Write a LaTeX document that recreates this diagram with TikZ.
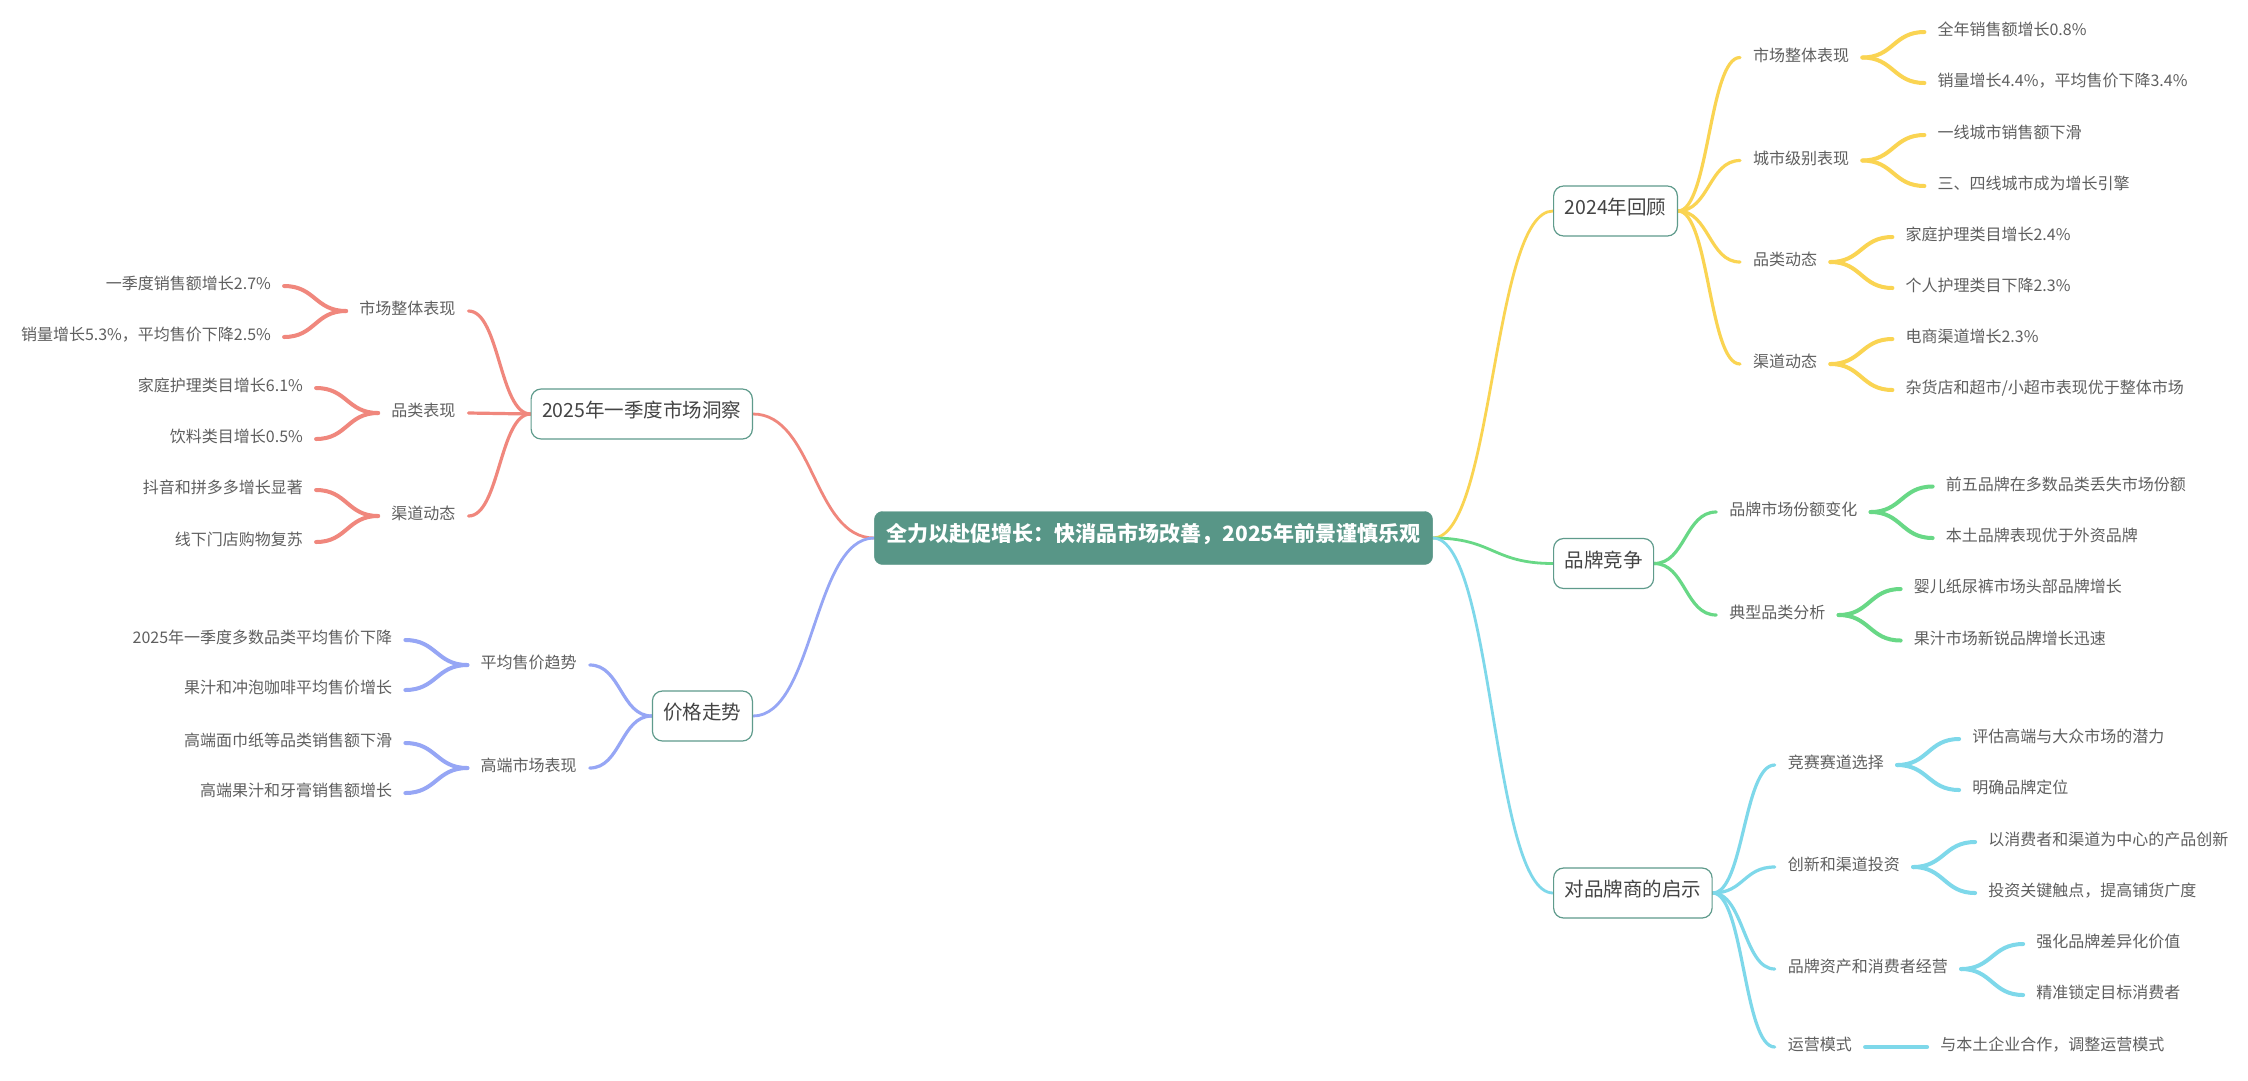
\documentclass[tikz,border=0pt]{standalone}
\usepackage{fontspec}
\setmainfont{Noto Sans CJK SC}
\usetikzlibrary{calc}
\definecolor{rootc}{RGB}{88,150,135}
\definecolor{boxb}{RGB}{95,155,140}
\definecolor{ty}{RGB}{250,212,82}
\definecolor{tg}{RGB}{104,216,134}
\definecolor{tc}{RGB}{126,216,234}
\definecolor{tr}{RGB}{240,135,125}
\definecolor{tb}{RGB}{150,166,245}
\definecolor{txt}{RGB}{95,95,95}
\definecolor{txtd}{RGB}{68,68,68}
\pgfdeclarelayer{bg}
\pgfsetlayers{bg,main}
\newcommand\mmright[3]{\draw[#1] (#2.east) .. controls +(31,0) and +(-31,0) .. (#3.west);}
\newcommand\mmleft[3]{\draw[#1] (#2.west) .. controls +(-31,0) and +(31,0) .. (#3.east);}
\begin{document}
\begin{tikzpicture}[x=1pt,y=-1pt,
  rootbox/.style={fill=rootc, draw=rootc, rounded corners=8pt, text=white,
    font=\fontsize{21}{21}\selectfont\bfseries, minimum height=53pt, inner xsep=12pt,
    text height=0.83em, text depth=0.07em},
  topic/.style={fill=white, draw=boxb, line width=1.2pt, rounded corners=10pt, text=txtd,
    font=\fontsize{19.5}{19.5}\selectfont, minimum height=50pt, inner xsep=11pt,
    text height=0.83em, text depth=0.07em},
  sub/.style={text=txt, font=\fontsize{16}{16}\selectfont, inner xsep=13pt, inner ysep=2pt,
    text height=0.83em, text depth=0.07em},
  subr/.style={sub, anchor=west, xshift=62pt},
  subl/.style={sub, anchor=east, xshift=-62pt},
  ly/.style={draw=ty, line cap=round},
  lg/.style={draw=tg, line cap=round},
  lc/.style={draw=tc, line cap=round},
  lr/.style={draw=tr, line cap=round},
  lb/.style={draw=tb, line cap=round},
  wa/.style={line width=2.8pt},
  wb/.style={line width=3.2pt},
  wc/.style={line width=4pt}]
\useasboundingbox (0,0) rectangle (2248,1080);

% root
\node[rootbox] (root) at (1153.5,538) {全力以赴促增长：快消品市场改善，2025年前景谨慎乐观};

% level 1
\node[topic, anchor=west] (t1) at (1553,211) {2024年回顾};
\node[topic, anchor=west] (t2) at (1553,563.5) {品牌竞争};
\node[topic, anchor=west] (t3) at (1553,893) {对品牌商的启示};
\node[topic, anchor=east] (t4) at (753,414) {2025年一季度市场洞察};
\node[topic, anchor=east] (t5) at (753,716) {价格走势};

% branch 1
\node[subr] (t1a) at (t1.east |- 0,57.5) {市场整体表现};
\node[subr] (t1b) at (t1.east |- 0,160.5) {城市级别表现};
\node[subr] (t1c) at (t1.east |- 0,262) {品类动态};
\node[subr] (t1d) at (t1.east |- 0,364) {渠道动态};
\node[subr] (t1a1) at (t1a.east |- 0,32) {全年销售额增长0.8\%};
\node[subr] (t1a2) at (t1a.east |- 0,83) {销量增长4.4\%，平均售价下降3.4\%};
\node[subr] (t1b1) at (t1b.east |- 0,135) {一线城市销售额下滑};
\node[subr] (t1b2) at (t1b.east |- 0,186) {三、四线城市成为增长引擎};
\node[subr] (t1c1) at (t1c.east |- 0,237) {家庭护理类目增长2.4\%};
\node[subr] (t1c2) at (t1c.east |- 0,288) {个人护理类目下降2.3\%};
\node[subr] (t1d1) at (t1d.east |- 0,339) {电商渠道增长2.3\%};
\node[subr] (t1d2) at (t1d.east |- 0,390) {杂货店和超市/小超市表现优于整体市场};

% branch 2
\node[subr] (t2a) at (t2.east |- 0,512) {品牌市场份额变化};
\node[subr] (t2b) at (t2.east |- 0,615) {典型品类分析};
\node[subr] (t2a1) at (t2a.east |- 0,486.5) {前五品牌在多数品类丢失市场份额};
\node[subr] (t2a2) at (t2a.east |- 0,538) {本土品牌表现优于外资品牌};
\node[subr] (t2b1) at (t2b.east |- 0,589) {婴儿纸尿裤市场头部品牌增长};
\node[subr] (t2b2) at (t2b.east |- 0,640.5) {果汁市场新锐品牌增长迅速};

% branch 3
\node[subr] (t3a) at (t3.east |- 0,765) {竞赛赛道选择};
\node[subr] (t3b) at (t3.east |- 0,867) {创新和渠道投资};
\node[subr] (t3c) at (t3.east |- 0,969) {品牌资产和消费者经营};
\node[subr] (t3d) at (t3.east |- 0,1047) {运营模式};
\node[subr] (t3a1) at (t3a.east |- 0,739) {评估高端与大众市场的潜力};
\node[subr] (t3a2) at (t3a.east |- 0,790) {明确品牌定位};
\node[subr] (t3b1) at (t3b.east |- 0,842) {以消费者和渠道为中心的产品创新};
\node[subr] (t3b2) at (t3b.east |- 0,893) {投资关键触点，提高铺货广度};
\node[subr] (t3c1) at (t3c.east |- 0,944) {强化品牌差异化价值};
\node[subr] (t3c2) at (t3c.east |- 0,995) {精准锁定目标消费者};
\node[subr] (t3d1) at (t3d.east |- 0,1047) {与本土企业合作，调整运营模式};

% branch 4
\node[subl] (t4a) at (t4.west |- 0,311) {市场整体表现};
\node[subl] (t4b) at (t4.west |- 0,413) {品类表现};
\node[subl] (t4c) at (t4.west |- 0,516) {渠道动态};
\node[subl] (t4a1) at (t4a.west |- 0,286) {一季度销售额增长2.7\%};
\node[subl] (t4a2) at (t4a.west |- 0,337) {销量增长5.3\%，平均售价下降2.5\%};
\node[subl] (t4b1) at (t4b.west |- 0,388) {家庭护理类目增长6.1\%};
\node[subl] (t4b2) at (t4b.west |- 0,439) {饮料类目增长0.5\%};
\node[subl] (t4c1) at (t4c.west |- 0,490) {抖音和拼多多增长显著};
\node[subl] (t4c2) at (t4c.west |- 0,542) {线下门店购物复苏};

% branch 5
\node[subl] (t5a) at (t5.west |- 0,665) {平均售价趋势};
\node[subl] (t5b) at (t5.west |- 0,768) {高端市场表现};
\node[subl] (t5a1) at (t5a.west |- 0,640) {2025年一季度多数品类平均售价下降};
\node[subl] (t5a2) at (t5a.west |- 0,690) {果汁和冲泡咖啡平均售价增长};
\node[subl] (t5b1) at (t5b.west |- 0,743) {高端面巾纸等品类销售额下滑};
\node[subl] (t5b2) at (t5b.west |- 0,793) {高端果汁和牙膏销售额增长};

\begin{pgfonlayer}{bg}
\fill[white] (0,0) rectangle (2248,1080);
% root links
\draw[ly,wa] (root.east) .. controls +(61,0) and +(-61,0) .. (t1.west);
\draw[lg,wa] (root.east) .. controls +(61,0) and +(-61,0) .. (t2.west);
\draw[lc,wa] (root.east) .. controls +(61,0) and +(-61,0) .. (t3.west);
\draw[lr,wa] (root.west) .. controls +(-61,0) and +(61,0) .. (t4.east);
\draw[lb,wa] (root.west) .. controls +(-61,0) and +(61,0) .. (t5.east);
% branch 1
\mmright{ly,wb}{t1}{t1a}
\mmright{ly,wb}{t1}{t1b}
\mmright{ly,wb}{t1}{t1c}
\mmright{ly,wb}{t1}{t1d}
\mmright{ly,wc}{t1a}{t1a1}
\mmright{ly,wc}{t1a}{t1a2}
\mmright{ly,wc}{t1b}{t1b1}
\mmright{ly,wc}{t1b}{t1b2}
\mmright{ly,wc}{t1c}{t1c1}
\mmright{ly,wc}{t1c}{t1c2}
\mmright{ly,wc}{t1d}{t1d1}
\mmright{ly,wc}{t1d}{t1d2}
% branch 2
\mmright{lg,wb}{t2}{t2a}
\mmright{lg,wb}{t2}{t2b}
\mmright{lg,wc}{t2a}{t2a1}
\mmright{lg,wc}{t2a}{t2a2}
\mmright{lg,wc}{t2b}{t2b1}
\mmright{lg,wc}{t2b}{t2b2}
% branch 3
\mmright{lc,wb}{t3}{t3a}
\mmright{lc,wb}{t3}{t3b}
\mmright{lc,wb}{t3}{t3c}
\mmright{lc,wb}{t3}{t3d}
\mmright{lc,wc}{t3a}{t3a1}
\mmright{lc,wc}{t3a}{t3a2}
\mmright{lc,wc}{t3b}{t3b1}
\mmright{lc,wc}{t3b}{t3b2}
\mmright{lc,wc}{t3c}{t3c1}
\mmright{lc,wc}{t3c}{t3c2}
\mmright{lc,wc}{t3d}{t3d1}
% branch 4
\mmleft{lr,wb}{t4}{t4a}
\mmleft{lr,wb}{t4}{t4b}
\mmleft{lr,wb}{t4}{t4c}
\mmleft{lr,wc}{t4a}{t4a1}
\mmleft{lr,wc}{t4a}{t4a2}
\mmleft{lr,wc}{t4b}{t4b1}
\mmleft{lr,wc}{t4b}{t4b2}
\mmleft{lr,wc}{t4c}{t4c1}
\mmleft{lr,wc}{t4c}{t4c2}
% branch 5
\mmleft{lb,wb}{t5}{t5a}
\mmleft{lb,wb}{t5}{t5b}
\mmleft{lb,wc}{t5a}{t5a1}
\mmleft{lb,wc}{t5a}{t5a2}
\mmleft{lb,wc}{t5b}{t5b1}
\mmleft{lb,wc}{t5b}{t5b2}
\end{pgfonlayer}
\end{tikzpicture}
\end{document}
